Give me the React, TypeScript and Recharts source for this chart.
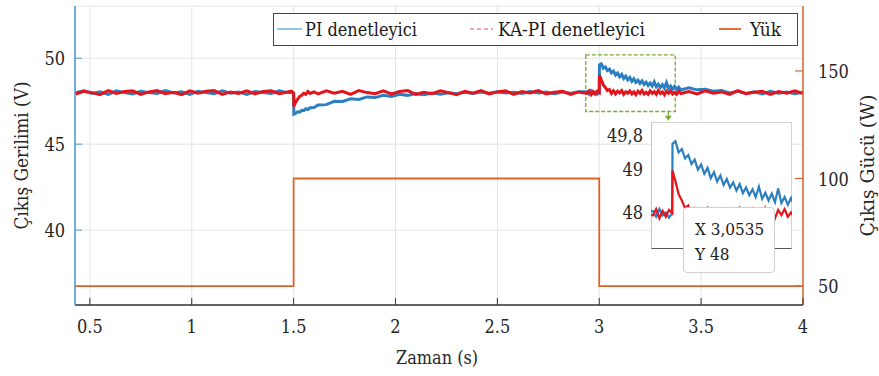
import React from 'react';
import {
  ComposedChart,
  LineChart,
  Line,
  XAxis,
  YAxis,
  CartesianGrid,
  ReferenceArea,
  ReferenceLine,
  ReferenceDot,
} from 'recharts';

const FONT = '"DejaVu Serif Condensed", "DejaVu Serif", serif';
const BLUE = '#2a7fc0';
const RED = '#e3141c';
const ORANGE = '#d9642a';
const GREEN = '#77ac30';
const AXIS_BLUE = '#4a97d2';
const DARK = '#333333';
const TXT = '#262626';

// sample times (s)
const timeS = [
  0.43, 0.47, 0.51, 0.55, 0.59, 0.63, 0.67, 0.71, 0.75, 0.79, 0.83, 0.87, 0.91, 0.95, 0.99, 1.03, 1.07, 1.11, 1.15, 1.19, 1.23, 1.27, 1.31, 1.35, 1.39, 1.43, 1.47,
  1.49, 1.5, 1.501,
  1.51, 1.52, 1.53, 1.54, 1.55, 1.56, 1.57, 1.58, 1.6,
  1.62, 1.66, 1.7, 1.74, 1.78, 1.82, 1.86, 1.9, 1.94, 1.98, 2.02, 2.06, 2.1, 2.14, 2.18, 2.22, 2.26, 2.3, 2.34, 2.38, 2.42, 2.46, 2.5, 2.54, 2.58, 2.62, 2.66, 2.7, 2.74, 2.78, 2.82, 2.86, 2.9,
  2.94, 2.95, 2.96, 2.97, 2.98, 2.99,
  3.0, 3.001,
  3.01, 3.02, 3.03, 3.04, 3.05, 3.06, 3.07, 3.08, 3.09, 3.1, 3.11, 3.12, 3.13, 3.14, 3.15, 3.16, 3.17, 3.18, 3.19, 3.2,
  3.21, 3.22, 3.23, 3.24, 3.25, 3.26, 3.27, 3.28, 3.29, 3.3, 3.31, 3.32, 3.33, 3.34, 3.35, 3.36, 3.37, 3.38, 3.39, 3.4,
  3.44, 3.48, 3.52, 3.56, 3.6, 3.64, 3.68, 3.72, 3.76, 3.8, 3.84, 3.88, 3.92, 3.96, 4.0,
];

// PI denetleyici output voltage (V)
const piVoltage = [
  48.0, 48.1, 47.95, 48.05, 47.9, 48.1, 48.0, 47.92, 48.08, 48.0, 47.95, 48.12, 47.98, 48.05, 47.9, 48.08, 48.0, 47.94, 48.1, 47.96, 48.04, 47.9, 48.06, 48.0, 47.95, 48.1, 48.0,
  48.02, 47.98, 46.75,
  46.8, 46.88, 46.86, 46.97, 46.95, 47.06, 47.02, 47.12, 47.13,
  47.28, 47.3, 47.49, 47.48, 47.64, 47.6, 47.75, 47.71, 47.84, 47.78, 47.9, 47.84, 47.94, 47.88, 47.97, 47.9, 47.99, 47.93, 48.02, 47.95, 48.04, 47.96, 48.05, 47.98, 48.02, 47.95, 48.06, 47.98, 48.04, 47.94, 48.03, 47.97, 48.05,
  48.05, 47.92, 48.1, 47.95, 48.02, 47.9,
  48.0, 49.62,
  49.68, 49.42, 49.5, 49.28, 49.36, 49.15, 49.25, 49.02, 49.14, 48.92, 49.06, 48.82, 48.96, 48.74, 48.88, 48.66, 48.8, 48.6, 48.72, 48.53,
  48.68, 48.47, 48.6, 48.42, 48.56, 48.38, 48.62, 48.34, 48.48, 48.3, 48.46, 48.26, 48.58, 48.24, 48.38, 48.2, 48.36, 48.18, 48.32, 48.16,
  48.28, 48.16, 48.2, 48.08, 48.12, 47.98, 48.08, 47.95, 48.05, 47.92, 48.08, 47.96, 48.04, 47.94, 48.02,
];

// KA-PI denetleyici output voltage (V)
const kapiVoltage = [
  47.92, 48.08, 48.0, 47.88, 48.12, 47.95, 48.06, 48.1, 47.9, 48.04, 48.12, 47.94, 48.02, 47.88, 48.1, 47.96, 48.08, 48.12, 47.9, 48.04, 47.95, 48.1, 47.92, 48.06, 48.1, 47.94, 48.04,
  48.08, 47.96, 47.2,
  47.45, 47.62, 47.78, 47.85, 47.96, 47.9, 48.06, 47.95, 48.04,
  47.92, 48.1, 47.96, 48.08, 47.9, 48.12, 48.0, 47.94, 48.1, 47.92, 48.06, 48.12, 47.9, 48.02, 47.94, 48.1, 48.0, 47.88, 48.08, 47.96, 48.12, 47.92, 48.04, 48.1, 47.9, 48.06, 47.98, 48.12, 47.92, 48.02, 48.08, 47.9, 48.04,
  47.95, 48.1, 47.88, 48.06, 47.92, 48.08,
  48.0, 49.0,
  48.75, 48.45, 48.3, 48.12, 48.18, 47.95, 48.1, 47.92, 48.08, 47.98, 48.12, 47.9, 48.05, 47.96, 48.1, 47.92, 48.04, 47.88, 48.08, 47.95,
  48.12, 47.92, 48.02, 47.9, 48.1, 47.96, 48.06, 47.9, 48.12, 47.94, 48.04, 47.88, 48.08, 47.96, 48.1, 47.92, 48.02, 47.9, 48.08, 47.95,
  48.06, 47.92, 48.1, 47.96, 48.04, 47.9, 48.12, 47.94, 48.02, 48.08, 47.9, 48.06, 47.96, 48.1, 47.94,
];

// Yük (load power, W)
const loadTime = [0.427, 1.5, 3.0, 4.0];
const loadPower = [50, 100, 50, 50];

const xTicks = [0.5, 1, 1.5, 2, 2.5, 3, 3.5, 4];
const voltTicks = [40, 45, 50];
const powerTicks = [50, 100, 150];
const insetTicks = [48, 49, 49.8];

const xDomain = [0.427, 4];
const voltDomain = [35.64, 53.04];
const powerDomain = [41.2, 180.2];
const insetX = [2.934, 3.373];
const insetY = [47.19, 50.13];
const zoomBoxV = [46.9, 50.19];
const arrowT = 3.339;
const arrowV = [46.9, 46.36];
const tipT = 3.0535;
const tipV = 48;

const voltageData = timeS.map((t, i) => ({ t, pi: piVoltage[i], kapi: kapiVoltage[i] }));
const loadData = loadTime.map((t, i) => ({ t, p: loadPower[i] }));

const BottomTick = (props: any) => {
  const { x, y, payload } = props;
  return (
    <g>
      <line x1={x} y1={y} x2={x} y2={y - 7} stroke={DARK} strokeWidth={1} />
      <text x={x} y={y + 28} textAnchor="middle" fontFamily={FONT} fontSize={18} fill={TXT}>
        {String(payload.value)}
      </text>
    </g>
  );
};

const TopTick = (props: any) => {
  const { x, y } = props;
  return <line x1={x} y1={y} x2={x} y2={y + 7} stroke={DARK} strokeWidth={1} />;
};

const LeftTick = (props: any) => {
  const { x, y, payload } = props;
  return (
    <g>
      <line x1={x} y1={y} x2={x + 7} y2={y} stroke={AXIS_BLUE} strokeWidth={1} />
      <text x={x - 10} y={y + 7} textAnchor="end" fontFamily={FONT} fontSize={18} fill={TXT}>
        {String(payload.value)}
      </text>
    </g>
  );
};

const RightTick = (props: any) => {
  const { x, y, payload } = props;
  return (
    <g>
      <line x1={x} y1={y} x2={x - 8} y2={y} stroke={ORANGE} strokeWidth={1.2} />
      <text x={x + 15} y={y + 7} textAnchor="start" fontFamily={FONT} fontSize={18} fill={TXT}>
        {String(payload.value)}
      </text>
    </g>
  );
};

const InsetTick = (props: any) => {
  const { x, y, payload } = props;
  return (
    <text x={x - 8} y={y + 6} textAnchor="end" fontFamily={FONT} fontSize={18} fill={TXT}>
      {String(payload.value).replace('.', ',')}
    </text>
  );
};

const Arrow = (p: any) => {
  const { x1, y1, x2, y2 } = p;
  return (
    <g>
      <line x1={x1} y1={y1} x2={x2} y2={y2 - 4} stroke={GREEN} strokeWidth={1.2} />
      <path d={`M${x2 - 3.5},${y2 - 5} L${x2 + 3.5},${y2 - 5} L${x2},${y2} Z`} fill={GREEN} />
    </g>
  );
};

const LegendBox = () => (
  <div
    style={{
      position: 'absolute',
      left: 273,
      top: 13,
      width: 525,
      height: 33,
      boxSizing: 'border-box',
      border: '1.5px solid #444',
      background: '#fff',
    }}
  >
    <svg width={525} height={33} style={{ position: 'absolute', left: -1.5, top: -1.5 }}>
      <line x1={4} y1={16} x2={29} y2={16} stroke="#6fb3dc" strokeWidth={1.5} />
      <line x1={197} y1={16} x2={220} y2={16} stroke="#f08a8a" strokeWidth={1.5} strokeDasharray="4 3" />
      <line x1={446} y1={16} x2={468} y2={16} stroke={ORANGE} strokeWidth={1.8} />
      <text x={32} y={23} fontFamily={FONT} fontSize={19} fill="#1a1a1a" textLength={112} lengthAdjust="spacingAndGlyphs">PI denetleyici</text>
      <text x={225} y={23} fontFamily={FONT} fontSize={19} fill="#1a1a1a" textLength={147} lengthAdjust="spacingAndGlyphs">KA-PI denetleyici</text>
      <text x={477} y={23} fontFamily={FONT} fontSize={19} fill="#1a1a1a">Yük</text>
    </svg>
  </div>
);

export default function App() {
  return (
    <div style={{ position: 'absolute', left: 0, top: 0, width: 879, height: 376, background: '#fff', overflow: 'hidden' }}>
      <ComposedChart
        width={879}
        height={376}
        data={voltageData}
        margin={{ top: 6, right: 0, bottom: 0, left: 0 }}
        style={{ position: 'absolute', left: 0, top: 0 }}
      >
        <CartesianGrid stroke="#e4e4e4" strokeWidth={1} yAxisId="v" />
        <XAxis
          type="number"
          dataKey="t"
          domain={xDomain}
          ticks={xTicks}
          allowDataOverflow
          height={71}
          tickSize={0}
          tickMargin={0}
          tick={<BottomTick />}
          axisLine={{ stroke: DARK, strokeWidth: 1.5 }}
          label={{
            content: (p: any) => (
              <text
                x={p.viewBox.x + p.viewBox.width / 2 - 2}
                y={364}
                textAnchor="middle"
                fontFamily={FONT}
                fontSize={19}
                fill={TXT}
                textLength={82}
                lengthAdjust="spacingAndGlyphs"
              >
                Zaman (s)
              </text>
            ),
          }}
        />
        <XAxis
          xAxisId="top"
          orientation="top"
          type="number"
          dataKey="t"
          domain={xDomain}
          ticks={xTicks}
          allowDataOverflow
          height={0}
          tickSize={0}
          tickMargin={0}
          tick={<TopTick />}
          axisLine={{ stroke: DARK, strokeWidth: 1.5 }}
        />
        <YAxis
          yAxisId="v"
          type="number"
          domain={voltDomain}
          ticks={voltTicks}
          allowDataOverflow
          width={75}
          tickSize={0}
          tickMargin={0}
          tick={<LeftTick />}
          axisLine={{ stroke: AXIS_BLUE, strokeWidth: 1.5 }}
          label={{
            content: (p: any) => {
              const cx = 21;
              const cy = p.viewBox.y + p.viewBox.height / 2;
              return (
                <text
                  transform={`translate(${cx},${cy}) rotate(-90)`}
                  x={0}
                  y={7}
                  textAnchor="middle"
                  fontFamily={FONT}
                  fontSize={19}
                  fill={TXT}
                  textLength={148}
                  lengthAdjust="spacingAndGlyphs"
                >
                  Çıkış Gerilimi (V)
                </text>
              );
            },
          }}
        />
        <YAxis
          yAxisId="p"
          orientation="right"
          type="number"
          domain={powerDomain}
          ticks={powerTicks}
          allowDataOverflow
          width={76}
          tickSize={0}
          tickMargin={0}
          tick={<RightTick />}
          axisLine={{ stroke: ORANGE, strokeWidth: 1.5 }}
          label={{
            content: (p: any) => {
              const cx = 867;
              const cy = p.viewBox.y + p.viewBox.height / 2 + 10;
              return (
                <text
                  transform={`translate(${cx},${cy}) rotate(-90)`}
                  x={0}
                  y={7}
                  textAnchor="middle"
                  fontFamily={FONT}
                  fontSize={19}
                  fill={TXT}
                  textLength={142}
                  lengthAdjust="spacingAndGlyphs"
                >
                  Çıkış Gücü (W)
                </text>
              );
            },
          }}
        />
        <Line
          data={loadData}
          yAxisId="p"
          dataKey="p"
          type="stepAfter"
          stroke={ORANGE}
          strokeWidth={1.8}
          dot={false}
          isAnimationActive={false}
        />
        <Line yAxisId="v" dataKey="pi" type="linear" stroke={BLUE} strokeWidth={3} dot={false} isAnimationActive={false} />
        <Line yAxisId="v" dataKey="kapi" type="linear" stroke={RED} strokeWidth={3} dot={false} isAnimationActive={false} />
        <ReferenceArea
          yAxisId="v"
          x1={insetX[0]}
          x2={insetX[1]}
          y1={zoomBoxV[0]}
          y2={zoomBoxV[1]}
          fill="none"
          fillOpacity={0}
          stroke={GREEN}
          strokeWidth={1.3}
          strokeDasharray="4 2"
        />
        <ReferenceLine
          yAxisId="v"
          segment={[
            { x: arrowT, y: arrowV[0] },
            { x: arrowT, y: arrowV[1] },
          ]}
          stroke={GREEN}
          shape={(p: any) => <Arrow {...p} />}
        />
      </ComposedChart>

      <LegendBox />

      <div
        style={{
          position: 'absolute',
          left: 651,
          top: 122,
          width: 141,
          height: 127,
          boxSizing: 'border-box',
          background: '#fff',
          border: '1px solid #d4d4d4',
          borderLeft: '1px solid #a9cde6',
          borderBottom: '1.5px solid #555',
        }}
      />
      <LineChart
        width={200}
        height={136}
        data={voltageData}
        margin={{ top: 6, right: 3, bottom: 4, left: 0 }}
        style={{ position: 'absolute', left: 595, top: 116 }}
      >
        <XAxis type="number" dataKey="t" domain={insetX} allowDataOverflow hide />
        <YAxis
          type="number"
          domain={insetY}
          ticks={insetTicks}
          allowDataOverflow
          width={56}
          axisLine={false}
          tickLine={false}
          tickSize={0}
          tickMargin={0}
          tick={<InsetTick />}
        />
        <Line dataKey="pi" type="linear" stroke={BLUE} strokeWidth={2.2} dot={false} isAnimationActive={false} />
        <Line dataKey="kapi" type="linear" stroke={RED} strokeWidth={2.2} dot={false} isAnimationActive={false} />
        <ReferenceDot x={tipT} y={tipV} r={2} fill="#000" stroke="none" />
      </LineChart>

      <div
        style={{
          position: 'absolute',
          left: 683,
          top: 207,
          width: 92,
          height: 66,
          boxSizing: 'border-box',
          background: '#fff',
          border: '1px solid #cfcfcf',
          borderRadius: 4,
          fontFamily: FONT,
          fontSize: 17,
          color: '#1a1a1a',
          padding: '9px 0 0 11px',
          lineHeight: '25px',
          whiteSpace: 'nowrap',
        }}
      >
        <div>X 3,0535</div>
        <div>Y 48</div>
      </div>
    </div>
  );
}
